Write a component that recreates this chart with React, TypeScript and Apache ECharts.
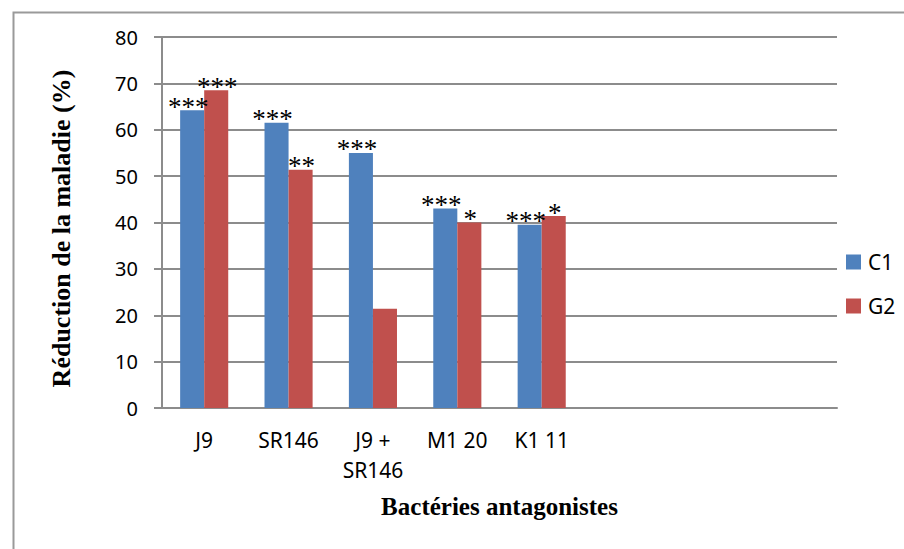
import React, { useEffect, useRef } from "react";
import * as echarts from "echarts";

const categories = ["J9", "SR146", "J9 +\nSR146", "M1 20", "K1 11", "", "", ""];
const seriesNames = ["C1", "G2"];
const c1Values = [64.2, 61.5, 55.0, 43.0, 39.5, null, null, null];
const g2Values = [68.5, 51.4, 21.4, 40.0, 41.4, null, null, null];
const c1Signif = ["***", "***", "***", "***", "***", "", "", ""];
const g2Signif = ["***", "**", "", "*", "*", "", "", ""];
const yTicks = { min: 0, max: 80, interval: 10 };

const SANS = "'Noto Sans', 'Open Sans', sans-serif";
const SERIF = "'Liberation Serif', 'Times New Roman', serif";

export default function App() {
  const ref = useRef<HTMLDivElement>(null);
  useEffect(() => {
    if (!ref.current) return;
    const chart = echarts.init(ref.current, null, { renderer: "svg" });
    const labelStyle = (sig: string[], dx: number) => ({
      show: true,
      position: "top",
      distance: 0,
      offset: [dx, 10],
      fontFamily: SERIF,
      fontSize: 27,
      color: "#000",
      formatter: (p: any) => sig[p.dataIndex] || "",
    });
    chart.setOption({
      animation: false,
      backgroundColor: "#fff",
      graphic: [
        {
          type: "rect",
          left: 11,
          top: 10,
          shape: { x: 0, y: 0, width: 1000, height: 1000 },
          style: { fill: "none", stroke: "#9a9a9a", lineWidth: 2 },
          silent: true,
          z: -10,
        },
      ],
      grid: { left: 162, right: 67, top: 37, bottom: 141, containLabel: false },
      legend: {
        orient: "vertical",
        left: 841,
        top: 246,
        itemWidth: 15,
        itemHeight: 15,
        itemGap: 22,
        icon: "rect",
        data: seriesNames,
        textStyle: { fontFamily: SANS, fontSize: 21, lineHeight: 22, color: "#000", padding: [0, 0, 0, 2] },
      },
      xAxis: {
        type: "category",
        data: categories,
        name: "Bactéries antagonistes",
        nameLocation: "middle",
        nameGap: 86,
        nameTextStyle: { fontFamily: SERIF, fontSize: 25, fontWeight: "bold", color: "#000" },
        axisLine: { lineStyle: { color: "#8c8c8c", width: 2 } },
        axisTick: { show: false },
        axisLabel: {
          interval: 0,
          margin: 17,
          fontFamily: SANS,
          fontSize: 21,
          lineHeight: 30,
          color: "#000",
        },
      },
      yAxis: {
        type: "value",
        min: yTicks.min,
        max: yTicks.max,
        interval: yTicks.interval,
        name: "Réduction de la maladie (%)",
        nameLocation: "middle",
        nameGap: 88,
        nameTextStyle: {
          fontFamily: SERIF,
          fontSize: 26,
          fontWeight: "bold",
          color: "#000",
          padding: [0, 12, 0, 0],
        },
        axisLine: { show: true, lineStyle: { color: "#8c8c8c", width: 2 } },
        axisTick: { show: true, length: 8, lineStyle: { color: "#8c8c8c", width: 2 } },
        axisLabel: { margin: 24, fontFamily: SANS, fontSize: 20, color: "#000" },
        splitLine: { lineStyle: { color: "#8c8c8c", width: 2 } },
      },
      series: [
        {
          name: seriesNames[0],
          type: "bar",
          data: c1Values,
          barGap: "0%",
          barCategoryGap: "43%",
          itemStyle: { color: "#4F81BD" },
          label: labelStyle(c1Signif, -4),
        },
        {
          name: seriesNames[1],
          type: "bar",
          data: g2Values,
          barGap: "0%",
          barCategoryGap: "43%",
          itemStyle: { color: "#C0504D" },
          label: labelStyle(g2Signif, 1),
        },
      ],
    });
    return () => chart.dispose();
  }, []);
  return (
    <div
      ref={ref}
      style={{ position: "absolute", left: 0, top: 0, width: 904, height: 549 }}
    />
  );
}
